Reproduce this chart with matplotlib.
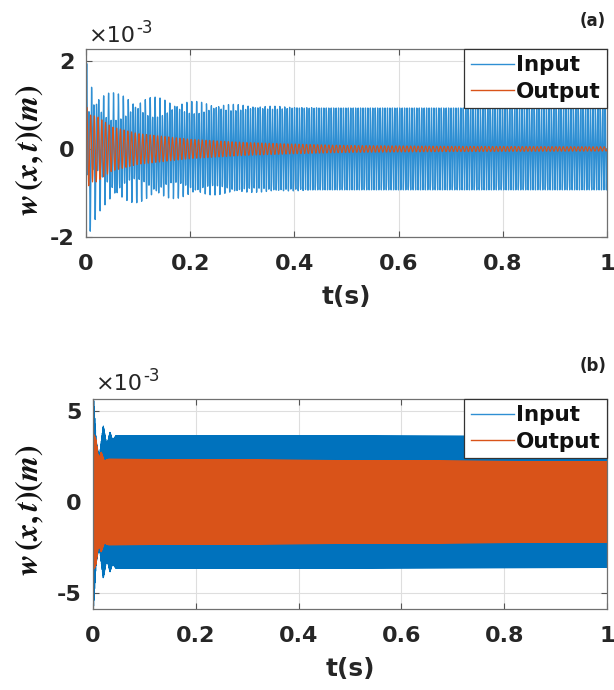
import numpy as np
import matplotlib
matplotlib.use("Agg")
import matplotlib.pyplot as plt

# ---------------- data (displacements in units of 1e-3 m) ----------------
# panel (a): envelope knots
t_env_in_a = [0.0, 0.002, 0.012, 0.02, 0.03, 0.05, 0.08, 0.12, 0.2, 0.3, 0.45, 0.6, 1.0]
amp_in_a = [1.3, 1.3, 1.1, 1.0, 0.98, 0.96, 0.95, 0.95, 0.94, 0.94, 0.93, 0.93, 0.93]
t_env_tr_a = [0.0, 0.003, 0.012, 0.03, 0.06, 0.1, 0.2, 0.3, 0.45]
amp_tr_a = [0.9, 0.9, 0.65, 0.4, 0.3, 0.27, 0.15, 0.06, 0.0]
t_env_out_a = [0.0, 0.002, 0.01, 0.02, 0.05, 0.1, 0.2, 0.3, 0.4, 0.5, 0.7, 1.0]
amp_out_a = [1.2, 0.9, 0.75, 0.75, 0.5, 0.35, 0.22, 0.15, 0.11, 0.08, 0.06, 0.05]
freq_in_a = 213.0
freq_tr_a = 100.0
freq_out_a = 140.0

# panel (b)
t_env_in_b = [0.0, 0.001, 0.006, 0.012, 0.02, 0.027, 0.033, 0.038, 0.045, 1.0]
amp_in_b = [0.0, 5.8, 3.4, 2.4, 4.2, 3.1, 3.85, 3.4, 3.65, 3.6]
t_env_out_b = [0.0, 0.002, 0.006, 0.011, 0.016, 0.022, 0.03, 1.0]
amp_out_b = [0.0, 3.7, 3.4, 2.3, 2.75, 2.25, 2.35, 2.2]
freq_in_b = 1500.0
freq_out_b = 1500.0

xticks = [0, 0.2, 0.4, 0.6, 0.8, 1.0]
xticklabels = ["0", "0.2", "0.4", "0.6", "0.8", "1"]
yticks_a = [-2, 0, 2]
yticks_b = [-5, 0, 5]
series_names = ["Input", "Output"]
panel_tags = ["(a)", "(b)"]

BLUE_THIN = "#2f8fd3"
BLUE = "#0072BD"
ORANGE = "#D95319"

plt.rcParams["mathtext.fontset"] = "custom"
plt.rcParams["mathtext.it"] = "STIXGeneral:italic:bold"
plt.rcParams["mathtext.rm"] = "STIXGeneral:bold"
plt.rcParams["font.family"] = ["DejaVu Sans"]


def signal(t, tk, ak, f):
    env = np.interp(t, tk, ak)
    return env * np.sin(2 * np.pi * f * t)


fig = plt.figure(figsize=(6.14, 6.90), dpi=100)

ax_a = fig.add_axes([86 / 614, 1 - 237 / 690, 521 / 614, 188 / 690])
ax_b = fig.add_axes([93 / 614, 1 - 609 / 690, 514 / 614, 210 / 690])

t_a = np.linspace(0, 1, 12001)
t_b = np.linspace(0, 1, 60001)

y_in_a = signal(t_a, t_env_in_a, amp_in_a, freq_in_a) + signal(t_a, t_env_tr_a, amp_tr_a, freq_tr_a)
ax_a.plot(t_a, y_in_a, color=BLUE_THIN, lw=0.95, label=series_names[0])
ax_a.plot(t_a, signal(t_a, t_env_out_a, amp_out_a, freq_out_a), color=ORANGE, lw=0.8, label=series_names[1])
ax_b.plot(t_b, signal(t_b, t_env_in_b, amp_in_b, freq_in_b), color=BLUE, lw=0.8, label=series_names[0])
ax_b.plot(t_b, signal(t_b, t_env_out_b, amp_out_b, freq_out_b), color=ORANGE, lw=0.8, label=series_names[1])

ax_a.set_ylim(-2.0, 2.27)
ax_b.set_ylim(-5.88, 5.66)

for ax, yt, ylc, tag, tagy, mulx, muly, hcol in [
    (ax_a, yticks_a, 150, panel_tags[0], 21, 89, 36, [BLUE_THIN, ORANGE]),
    (ax_b, yticks_b, 510, panel_tags[1], 366, 96, 384, [BLUE_THIN, ORANGE]),
]:
    ax.set_xlim(0, 1)
    ax.set_xticks(xticks)
    ax.set_xticklabels(xticklabels)
    ax.set_yticks(yt)
    ax.set_yticklabels([str(v) for v in yt])
    ax.grid(True, color="#dedede", lw=0.8)
    ax.set_axisbelow(True)
    ax.tick_params(direction="in", length=4, width=0.8, color="#555555",
                   top=True, right=True, labelsize=16)
    ax.tick_params(axis="x", pad=12)
    ax.tick_params(axis="y", pad=8)
    for lbl in ax.get_xticklabels() + ax.get_yticklabels():
        lbl.set_fontweight("bold")
        lbl.set_color("#262626")
    for s in ax.spines.values():
        s.set_color("#707070")
        s.set_linewidth(0.9)
    ax.set_xlabel("t(s)", fontsize=18, fontweight="bold", color="#262626", labelpad=8)
    leg = ax.legend(loc="upper right", bbox_to_anchor=(1, 1), borderaxespad=0,
                    fancybox=False, frameon=True, framealpha=1, fontsize=15.5,
                    handlelength=2.0, handletextpad=0.1, borderpad=0.3,
                    labelspacing=0.3)
    leg.get_frame().set_edgecolor("#333333")
    leg.get_frame().set_linewidth(0.9)
    for h, c in zip(leg.legend_handles, hcol):
        h.set_color(c)
        h.set_linewidth(1.0)
    for txt in leg.get_texts():
        txt.set_fontweight("bold")
        txt.set_color("#111111")
    fig.text(30 / 614, 1 - ylc / 690, r"$w\,(x,t)(m)$", rotation=90, ha="center",
             va="center", fontsize=23, color="#111111")
    fig.text(593 / 614, 1 - tagy / 690, tag, ha="center", va="center", fontsize=12,
             fontweight="bold", color="#222222")
    fig.text(mulx / 614, 1 - muly / 690, "\u00d710", ha="left", va="center", fontsize=16,
             color="#262626")
    fig.text((mulx + 47) / 614, 1 - (muly - 8) / 690, "-3", ha="left", va="center",
             fontsize=12, color="#262626")

fig.savefig("out.png", dpi=100)
